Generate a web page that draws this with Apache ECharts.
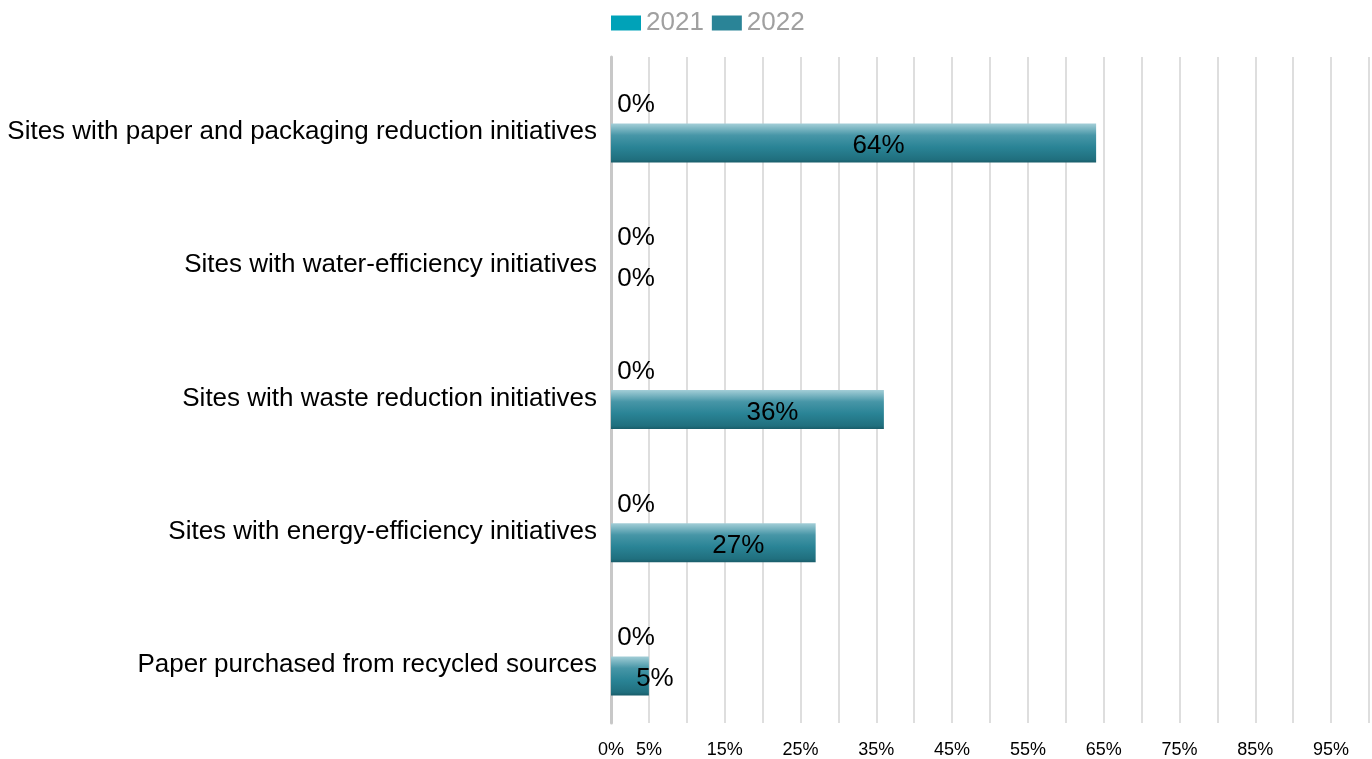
<!DOCTYPE html>
<html>
<head>
<meta charset="utf-8">
<script src="https://cdn.jsdelivr.net/npm/echarts@6/dist/echarts.min.js"></script>
<style>
  html, body { margin: 0; padding: 0; background: #fff; }
  #chart { width: 1372px; height: 759px; }
</style>
</head>
<body>
<div id="chart"></div>
<script>
// Environmental initiative indicators, share of sites (%)
const categories = [
  'Sites with paper and packaging reduction initiatives',
  'Sites with water-efficiency initiatives',
  'Sites with waste reduction initiatives',
  'Sites with energy-efficiency initiatives',
  'Paper purchased from recycled sources'
];
const values2021 = [0, 0, 0, 0, 0];
const values2022 = [64, 0, 36, 27, 5];
const seriesNames = ['2021', '2022'];
// Tick labels drawn on the value axis (gridlines every 5%)
const tickLabels = [0, 5, 15, 25, 35, 45, 55, 65, 75, 85, 95];

const font = 'Liberation Sans, Arial, sans-serif';
function valueLabel(dy) {
  return {
    show: true,
    position: 'inside',
    offset: [25, dy],
    formatter: p => p.value + '%',
    fontSize: 26,
    color: '#000',
    fontFamily: font
  };
}

const chart = echarts.init(document.getElementById('chart'));
chart.setOption({
  animation: false,
  textStyle: { fontFamily: font },
  legend: {
    top: 5,
    left: 606,
    icon: 'rect',
    itemWidth: 30,
    itemHeight: 15,
    itemGap: 8,
    textStyle: { fontSize: 26, color: '#a0a0a0', fontFamily: font },
    data: [
      { name: seriesNames[0], itemStyle: { color: '#00a2b8', borderWidth: 0 } },
      { name: seriesNames[1], itemStyle: { color: '#2a8497', borderWidth: 0 } }
    ]
  },
  grid: { left: 611, right: 3, top: 57, bottom: 36, containLabel: false },
  xAxis: {
    type: 'value',
    min: 0,
    max: 100,
    interval: 5,
    axisLine: { show: false },
    axisTick: { show: false },
    splitLine: { show: true, lineStyle: { color: '#dedede', width: 2 } },
    axisLabel: {
      margin: 18,
      fontSize: 18,
      color: '#000',
      fontFamily: font,
      formatter: v => tickLabels.includes(v) ? v + '%' : ''
    }
  },
  yAxis: {
    type: 'category',
    inverse: true,
    data: categories,
    axisLine: { show: true, lineStyle: { color: '#c8c8c8', width: 3 } },
    axisTick: { show: false },
    axisLabel: {
      margin: 14,
      fontSize: 26,
      color: '#000',
      fontFamily: font,
      verticalAlign: 'top',
      lineHeight: 17
    }
  },
  series: [
    {
      name: seriesNames[0],
      type: 'bar',
      data: values2021,
      barWidth: 39,
      barGap: '0%',
      itemStyle: { color: '#00a2b8' },
      label: valueLabel(1)
    },
    {
      name: seriesNames[1],
      type: 'bar',
      data: values2022,
      barWidth: 39,
      barGap: '0%',
      itemStyle: {
        color: new echarts.graphic.LinearGradient(0, 0, 0, 1, [
          { offset: 0, color: '#a3ced7' },
          { offset: 0.3, color: '#4796a7' },
          { offset: 0.6, color: '#2a8496' },
          { offset: 0.92, color: '#206f7e' },
          { offset: 1, color: '#195c69' }
        ])
      },
      label: valueLabel(3)
    }
  ]
});
</script>
</body>
</html>
